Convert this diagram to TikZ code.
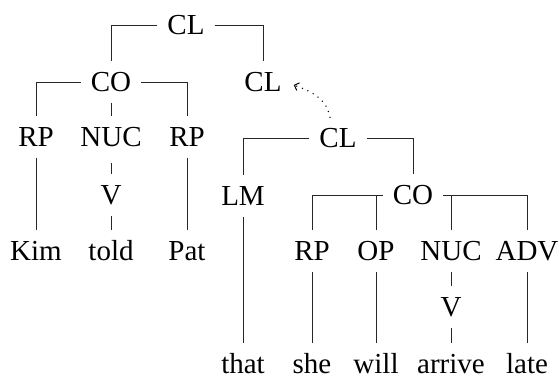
\documentclass[tikz,border=0pt]{standalone}
\usepackage{fontspec}
\setmainfont{Liberation Serif}
\usetikzlibrary{arrows.meta}
\begin{document}
\begin{tikzpicture}[x=1pt,y=-1pt,
  lbl/.style={inner xsep=10pt,inner ysep=11pt,text height=19pt,text depth=0pt,
    font=\fontsize{29}{34}\selectfont},
  word/.style={lbl,inner ysep=2pt},
  toword/.style={shorten >=9pt},
  edge/.style={draw=black!85,line width=0.7pt},
  link/.style={draw=black,line width=1.5pt,line cap=round,dash pattern=on 0pt off 6pt,
    -{Straight Barb[length=4pt,width=8pt,line width=1pt]}}]
\useasboundingbox (0,0) rectangle (559,376);
% row 0
\node[lbl] (cl1) at (186,25) {CL};
% row 1
\node[lbl] (co1) at (111,82) {CO};
\node[lbl] (cl2) at (263,82) {CL};
% row 2
\node[lbl] (rp1) at (36,137) {RP};
\node[lbl] (nuc1) at (111,137) {NUC};
\node[lbl] (rp2) at (187,137) {RP};
\node[lbl] (cl3) at (338,138) {CL};
% row 3
\node[lbl] (v1) at (111,195) {V};
\node[lbl] (lm) at (243,196) {LM};
\node[lbl] (co2) at (413,195) {CO};
% row 4
\node[lbl] (kim) at (36,251) {Kim};
\node[lbl] (told) at (111,251) {told};
\node[lbl] (pat) at (187,251) {Pat};
\node[lbl] (rp3) at (312,251) {RP};
\node[lbl] (op) at (376,251) {OP};
\node[lbl] (nuc2) at (451,251) {NUC};
\node[lbl] (adv) at (527,251) {ADV};
% row 5
\node[lbl] (v2) at (451,307) {V};
% row 6
\node[word] (that) at (243,364) {that};
\node[word] (she) at (312,364) {she};
\node[word] (will) at (376,364) {will};
\node[word] (arrive) at (451,364) {arrive};
\node[word] (late) at (527,364) {late};

% main clause
\draw[edge] (cl1.west) -| (co1.north);
\draw[edge] (cl1.east) -| (cl2.north);
% first core
\draw[edge] (co1.west) -| (rp1.north);
\draw[edge] (co1.east) -| (rp2.north);
\draw[edge] (co1.south) -- (nuc1.north);
\draw[edge] (rp1.south) -- (kim.north);
\draw[edge,shorten <=5pt] (nuc1.south) -- (v1.north);
\draw[edge] (v1.south) -- (told.north);
\draw[edge] (rp2.south) -- (pat.north);
% embedded clause
\draw[edge] (cl3.west) -| (lm.north);
\draw[edge] (cl3.east) -| (co2.north);
\draw[edge,toword] (lm.south) -- (that.north);
\draw[edge] (co2.west) -| (rp3.north);
\draw[edge] (op.north) -- (op.north |- co2.west);
\draw[edge] (co2.east) -| (adv.north);
\draw[edge] (nuc2.north) -- (nuc2.north |- co2.east);
\draw[edge,toword] (rp3.south) -- (she.north);
\draw[edge,toword] (op.south) -- (will.north);
\draw[edge] (nuc2.south) -- (v2.north);
\draw[edge,toword] (v2.south) -- (arrive.north);
\draw[edge,toword] (adv.south) -- (late.north);
% linkage
\draw[link] ([xshift=-8pt]cl3.north) to[out=100,in=-20] ([xshift=2pt,yshift=-3pt]cl2.east);
\end{tikzpicture}
\end{document}
